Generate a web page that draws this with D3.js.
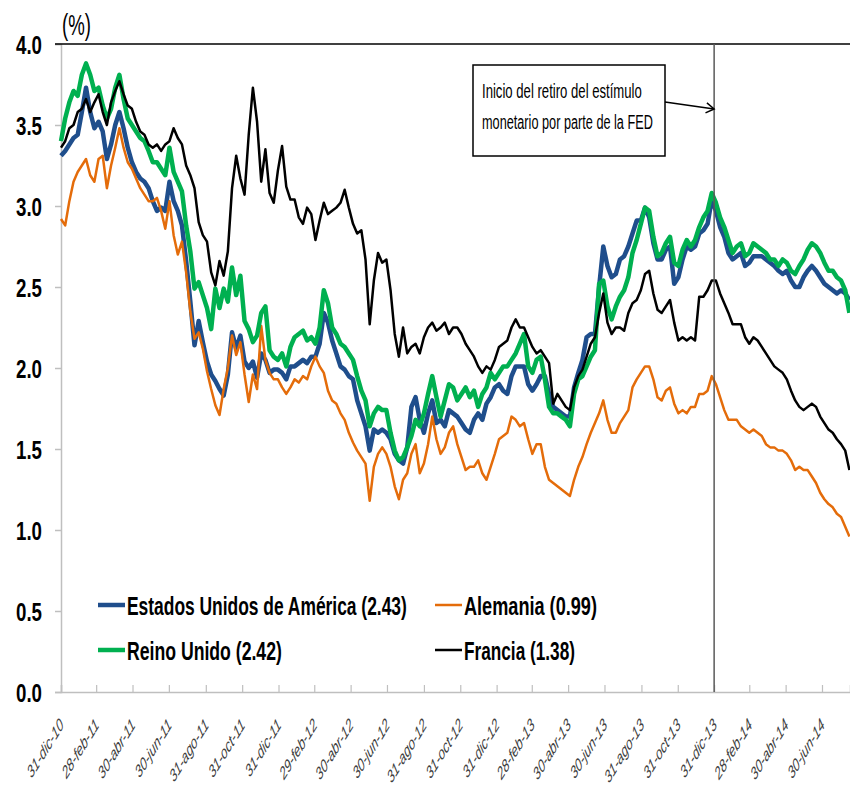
<!DOCTYPE html>
<html>
<head>
<meta charset="utf-8">
<script src="https://cdn.jsdelivr.net/npm/d3@7"></script>
<style>
  body { margin: 0; background: #fff; }
  svg { display: block; }
</style>
</head>
<body>
<div class="canvas"></div>
<script>
// Observaciones semanales (viernes), del 31-dic-10 al 15-ago-14
const inicio = '2010-12-31'
const fin = '2014-08-16'

// Rendimiento de bonos a 10 años (%), una lectura por semana
const eeuu = [
  3.31,3.34,3.38,3.42,3.44,3.58,3.73,3.58,3.48,3.52,3.46,3.29,3.38,3.50,3.58,3.48,3.36,3.27,3.21,3.17,3.15,3.11,3.03,2.97,
  2.99,2.97,3.15,3.03,2.97,2.88,2.66,2.41,2.14,2.29,2.16,2.04,1.96,1.92,1.87,1.83,1.96,2.22,2.12,2.20,2.04,2.00,2.04,1.94,
  2.09,2.05,1.97,1.99,1.99,1.97,1.93,2.01,2.01,2.03,2.05,2.03,2.07,2.07,2.15,2.34,2.28,2.17,2.09,2.01,1.99,1.95,1.93,1.80,
  1.72,1.64,1.49,1.62,1.60,
  1.62,1.60,1.56,1.47,1.43,1.41,1.51,1.76,1.82,1.68,1.60,1.72,1.80,1.66,1.68,1.64,1.74,1.72,1.70,1.66,1.62,1.60,1.68,1.72,
  1.68,1.78,1.82,1.88,1.90,1.86,1.84,1.95,2.01,2.01,2.01,1.90,1.86,1.90,1.95,
  1.95,1.84,1.76,1.74,1.72,1.70,1.70,1.88,1.97,2.05,2.19,2.21,2.21,2.50,2.75,2.63,2.56,2.58,2.67,2.69,2.75,2.83,2.91,2.91,
  2.99,2.93,2.77,2.67,2.67,2.73,2.75,2.52,2.56,2.67,2.75,2.73,2.75,2.83,
  2.85,2.89,3.04,2.97,2.87,2.81,2.71,2.67,2.69,2.71,2.63,2.65,2.69,2.69,2.69,2.67,2.65,2.63,2.60,2.58,2.60,2.54,2.50,2.50,
  2.56,2.60,2.63,2.60,2.56,2.52,2.50,2.48,2.46,2.48,2.46,2.42
]
const alemania = [
  2.92,2.88,3.03,3.15,3.21,3.25,3.29,3.19,3.15,3.29,3.31,3.11,3.25,3.36,3.48,3.36,3.27,3.23,3.17,3.11,3.07,3.03,3.03,3.05,
  2.97,2.86,3.03,2.82,2.70,2.78,2.59,2.35,2.18,2.22,2.12,1.98,1.87,1.77,1.71,1.87,2.00,2.20,2.08,2.16,1.96,1.79,1.96,1.87,
  2.26,2.05,1.97,1.93,1.93,1.88,1.84,1.88,1.93,1.91,1.95,1.93,2.01,2.07,2.01,1.97,1.86,1.80,1.78,1.72,1.68,1.60,1.54,1.49,
  1.45,1.41,1.18,1.39,1.47,
  1.51,1.47,1.39,1.27,1.19,1.31,1.35,1.47,1.53,1.35,1.41,1.53,1.70,1.56,1.47,1.51,1.60,1.64,1.53,1.45,1.37,1.39,1.39,1.43,
  1.35,1.31,1.39,1.47,1.56,1.58,1.60,1.70,1.68,1.64,1.66,1.56,1.47,1.53,1.53,
  1.39,1.31,1.29,1.27,1.25,1.23,1.21,1.31,1.39,1.45,1.53,1.60,1.66,1.72,1.80,1.68,1.60,1.60,1.66,1.70,1.74,1.88,1.93,1.97,
  2.01,2.01,1.93,1.82,1.80,1.86,1.88,1.78,1.72,1.74,1.72,1.76,1.76,1.84,
  1.84,1.86,1.95,1.90,1.82,1.74,1.68,1.68,1.68,1.64,1.62,1.60,1.62,1.60,1.58,1.53,1.51,1.51,1.49,1.49,1.47,1.43,1.37,1.39,
  1.37,1.37,1.33,1.29,1.23,1.19,1.16,1.14,1.10,1.08,1.02,0.96
]
const reinoUnido = [
  3.40,3.54,3.64,3.71,3.68,3.81,3.88,3.81,3.71,3.73,3.62,3.54,3.60,3.73,3.81,3.66,3.54,3.50,3.46,3.42,3.40,3.34,3.27,3.27,
  3.23,3.19,3.36,3.21,3.15,3.09,2.88,2.72,2.49,2.53,2.45,2.37,2.24,2.49,2.37,2.49,2.41,2.62,2.45,2.57,2.29,2.24,2.16,2.20,
  2.34,2.38,2.11,2.07,2.05,2.09,2.01,2.13,2.19,2.21,2.23,2.17,2.19,2.15,2.25,2.48,2.40,2.25,2.21,2.15,2.13,2.09,2.05,1.95,
  1.86,1.80,1.64,1.72,1.76,
  1.74,1.74,1.60,1.49,1.43,1.45,1.51,1.58,1.68,1.64,1.72,1.84,1.95,1.82,1.70,1.80,1.90,1.88,1.80,1.84,1.88,1.82,1.86,1.76,
  1.84,1.88,1.97,1.93,1.97,2.01,2.01,2.05,2.09,2.15,2.21,2.01,1.97,2.05,2.07,
  1.93,1.76,1.72,1.72,1.70,1.68,1.64,1.84,1.93,1.95,2.01,2.07,2.11,2.52,2.54,2.38,2.30,2.38,2.44,2.48,2.56,2.71,2.79,2.89,
  2.99,2.97,2.81,2.69,2.71,2.77,2.81,2.65,2.63,2.73,2.79,2.75,2.79,2.87,
  2.93,2.97,3.08,3.02,2.93,2.87,2.79,2.71,2.75,2.77,2.69,2.71,2.77,2.75,2.73,2.71,2.67,2.67,2.63,2.67,2.65,2.60,2.58,2.63,
  2.67,2.73,2.77,2.75,2.71,2.65,2.60,2.60,2.56,2.54,2.48,2.34
]
const francia = [
  3.36,3.40,3.48,3.50,3.58,3.60,3.66,3.58,3.64,3.69,3.58,3.50,3.64,3.71,3.77,3.69,3.62,3.60,3.52,3.46,3.44,3.38,3.36,3.38,
  3.34,3.38,3.40,3.48,3.42,3.38,3.25,3.19,3.11,2.90,2.82,2.78,2.59,2.51,2.66,2.57,2.72,3.11,3.31,3.17,3.07,3.44,3.73,3.52,
  3.15,3.35,3.08,3.02,3.22,3.37,3.12,3.04,3.04,2.93,2.89,2.99,2.95,2.79,2.91,3.02,2.95,2.97,2.99,3.02,3.10,2.99,2.89,2.83,
  2.85,2.67,2.27,2.54,2.71,
  2.65,2.67,2.48,2.21,2.07,2.25,2.09,2.13,2.15,2.09,2.19,2.25,2.28,2.23,2.25,2.28,2.21,2.25,2.25,2.21,2.15,2.11,2.07,2.01,
  1.97,2.01,1.99,2.05,2.13,2.15,2.17,2.25,2.30,2.25,2.25,2.19,2.13,2.09,2.11,
  2.07,2.03,1.78,1.84,1.80,1.76,1.74,1.88,1.95,1.99,2.07,2.15,2.19,2.34,2.46,2.28,2.21,2.25,2.25,2.23,2.34,2.40,2.42,2.48,
  2.58,2.60,2.46,2.36,2.34,2.38,2.42,2.28,2.17,2.19,2.17,2.19,2.17,2.44,
  2.44,2.48,2.54,2.54,2.46,2.40,2.34,2.27,2.27,2.27,2.19,2.15,2.19,2.17,2.13,2.09,2.05,2.01,1.99,1.97,1.93,1.86,1.80,1.76,
  1.74,1.76,1.78,1.76,1.70,1.66,1.62,1.60,1.56,1.53,1.49,1.37
]

const nombres = ['Estados Unidos de América (2.43)', 'Alemania (0.99)', 'Reino Unido (2.42)', 'Francia (1.38)']
const colores = ['#1f4e8c', '#e46c0a', '#00b050', '#000000']

// Etiquetas del eje X y del eje Y
const etiquetasX = ['31-dic-10','28-feb-11','30-abr-11','30-jun-11','31-ago-11','31-oct-11','31-dic-11',
  '29-feb-12','30-abr-12','30-jun-12','31-ago-12','31-oct-12','31-dic-12','28-feb-13','30-abr-13',
  '30-jun-13','31-ago-13','31-oct-13','31-dic-13','28-feb-14','30-abr-14','30-jun-14']
const ticksY = [0, 0.5, 1, 1.5, 2, 2.5, 3, 3.5, 4]
const fechaFed = '31-dic-13'
const notaFed = ['Inicio del retiro del estímulo', 'monetario por parte de la FED']

const meses = {ene:0, feb:1, mar:2, abr:3, may:4, jun:5, jul:6, ago:7, sep:8, oct:9, nov:10, dic:11}
const parseEtiqueta = s => {
  const [d, m, a] = s.split('-')
  return new Date(2000 + +a, meses[m], +d)
}
const parseFecha = d3.timeParse('%Y-%m-%d')
const fechas = d3.timeFriday.range(parseFecha(inicio), parseFecha(fin))

const width = 850
const height = 787
const margin = {top: 44, right: 0, bottom: 95, left: 61}
const fuente = "'Liberation Sans', Arial, sans-serif"
// la imagen original está comprimida en horizontal
const compresion = 0.62

const svg = d3.select('.canvas')
  .append('svg')
    .attr('width', width)
    .attr('height', height)

// Ajusta el ancho de un texto escalándolo en horizontal alrededor de su ancla
const ajustarAncho = (sel, ancho) => {
  sel.each(function(d, i) {
    const t = d3.select(this)
    const w = this.getComputedTextLength()
    const objetivo = typeof ancho === 'function' ? ancho(d, i) : ancho
    const ax = +t.attr('x') || 0
    t.attr('transform', `translate(${ax},0) scale(${objetivo / w},1) translate(${-ax},0)`)
  })
}

// Escalas
const x = d3.scaleTime()
  .domain([parseFecha(inicio), parseFecha(fin)])
  .range([margin.left, width - margin.right])

const y = d3.scaleLinear()
  .domain([0, 4])
  .range([height - margin.bottom, margin.top])

// Eje Y
const yAxis = d3.axisLeft(y)
  .tickValues(ticksY)
  .tickSize(6)
  .tickFormat(d3.format('.1f'))

const yAxisGroup = svg.append('g')
  .attr('transform', `translate(${margin.left},0)`)
  .call(yAxis)
yAxisGroup.select('.domain').attr('stroke', '#bfbfbf').attr('stroke-width', 1.5)
yAxisGroup.selectAll('.tick line').attr('stroke', '#bfbfbf').attr('stroke-width', 1.5)
yAxisGroup.selectAll('.tick text')
  .attr('x', -19)
  .attr('dy', '0.36em')
  .attr('fill', '#000')
  .attr('font-family', fuente)
  .attr('font-weight', 'bold')
  .attr('font-size', 25)
  .call(ajustarAncho, 26)

// Eje X
const xAxis = d3.axisBottom(x)
  .tickValues(etiquetasX.map(parseEtiqueta))
  .tickSize(-7)
  .tickFormat((d, i) => etiquetasX[i])

const xAxisGroup = svg.append('g')
  .attr('transform', `translate(0,${height - margin.bottom})`)
  .call(xAxis)
xAxisGroup.select('.domain').attr('stroke', '#bfbfbf').attr('stroke-width', 1.5)
xAxisGroup.selectAll('.tick line').attr('stroke', '#bfbfbf').attr('stroke-width', 1.2)
xAxisGroup.selectAll('.tick text')
  .attr('y', 0)
  .attr('dy', 0)
  .attr('text-anchor', 'end')
  .attr('transform', `translate(3,34) scale(${compresion},1) rotate(-45)`)
  .attr('fill', '#404040')
  .attr('font-family', fuente)
  .attr('font-style', 'italic')
  .attr('font-size', 18)

// Línea superior del área de gráfico
svg.append('line')
  .attr('x1', margin.left - 6).attr('x2', width)
  .attr('y1', y(4)).attr('y2', y(4))
  .attr('stroke', '#000')
  .attr('stroke-width', 1.5)

// Unidad
svg.append('text')
  .attr('x', 62).attr('y', 35)
  .attr('font-family', fuente)
  .attr('font-size', 30)
  .text('(%)')
  .call(ajustarAncho, 29)

// Series
const series = [eeuu, alemania, reinoUnido, francia]
const anchos = [4.5, 2.5, 4.5, 2.5]
const linea = d3.line()
  .x((d, i) => x(fechas[i]))
  .y(d => y(d))

svg.append('g')
  .selectAll('path')
  .data(series)
  .enter()
  .append('path')
    .attr('d', linea)
    .attr('fill', 'none')
    .attr('stroke', (d, i) => colores[i])
    .attr('stroke-width', (d, i) => anchos[i])
    .attr('stroke-linejoin', 'round')

// Línea vertical: retiro del estímulo
const xFed = x(parseEtiqueta(fechaFed))
svg.append('line')
  .attr('x1', xFed).attr('x2', xFed)
  .attr('y1', y(4)).attr('y2', y(0))
  .attr('stroke', '#595959')
  .attr('stroke-width', 1.5)

// Recuadro de nota
svg.append('rect')
  .attr('x', 473).attr('y', 65)
  .attr('width', 192).attr('height', 91)
  .attr('fill', '#fff')
  .attr('stroke', '#000')
  .attr('stroke-width', 1.5)

const anchosNota = [160, 171]
svg.selectAll('.nota')
  .data(notaFed)
  .enter()
  .append('text')
    .attr('class', 'nota')
    .attr('x', 482)
    .attr('y', (d, i) => 98 + i * 31)
    .attr('font-family', fuente)
    .attr('font-size', 21)
    .text(d => d)
    .call(ajustarAncho, (d, i) => anchosNota[i])

// Flecha
svg.append('defs').append('marker')
  .attr('id', 'flecha')
  .attr('markerUnits', 'userSpaceOnUse')
  .attr('markerWidth', 12).attr('markerHeight', 12)
  .attr('refX', 0).attr('refY', 0)
  .attr('viewBox', '-10 -6 12 12')
  .attr('orient', 'auto')
  .append('path')
    .attr('d', 'M-8,-5 L0,0 L-8,5')
    .attr('fill', 'none')
    .attr('stroke', '#000')
    .attr('stroke-width', 1.5)

svg.append('line')
  .attr('x1', 665).attr('y1', 102)
  .attr('x2', xFed).attr('y2', 109)
  .attr('stroke', '#000')
  .attr('stroke-width', 1.5)
  .attr('marker-end', 'url(#flecha)')

// Leyenda
const leyX = [98, 435, 98, 435]
const leyY = [605, 605, 650, 650]
const leyAnchos = [280, 133, 155, 111]
const leyenda = svg.append('g')
  .selectAll('g')
  .data(nombres)
  .enter()
  .append('g')
    .attr('transform', (d, i) => `translate(${leyX[i]},${leyY[i]})`)

leyenda.append('line')
  .attr('x1', 0).attr('x2', 27)
  .attr('stroke', (d, i) => colores[i])
  .attr('stroke-width', (d, i) => anchos[i])

leyenda.append('text')
  .attr('x', 29)
  .attr('y', 10)
  .attr('font-family', fuente)
  .attr('font-weight', 'bold')
  .attr('font-size', 25)
  .text(d => d)
  .call(ajustarAncho, (d, i) => leyAnchos[i])
</script>
</body>
</html>
